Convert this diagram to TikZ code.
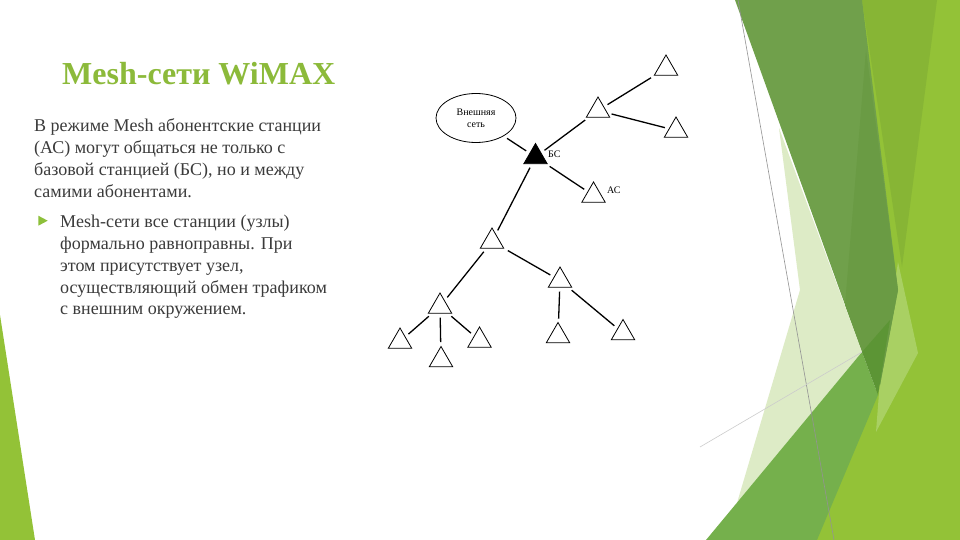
\documentclass[tikz,border=0pt]{standalone}
\usepackage{fontspec}
\setmainfont{Liberation Serif}
\usetikzlibrary{shapes.geometric}
\definecolor{titlegreen}{HTML}{8CBA3A}
\definecolor{bodygray}{HTML}{3B3B3B}
\definecolor{limemain}{HTML}{93C237}
\definecolor{limemid}{HTML}{87B535}
\definecolor{limepale}{HTML}{A9D063}
\definecolor{darkband}{HTML}{70A04B}
\definecolor{darkband2}{HTML}{6A9B44}
\definecolor{palegreen}{HTML}{DDEBC6}
\definecolor{medgreen}{HTML}{75B04C}
\definecolor{deepgreen}{HTML}{5C9535}
\definecolor{bulletgreen}{HTML}{8DC03A}
\begin{document}
\begin{tikzpicture}[x=1pt,y=-1pt,
  tri/.style={draw=black, regular polygon, regular polygon sides=3, minimum size=27pt, inner sep=0pt, line width=0.8pt},
  bstri/.style={tri, fill=black},
  link/.style={line width=1.3pt, shorten <=4pt, shorten >=4pt},
  lbl/.style={font=\fontsize{10}{11}\selectfont, inner sep=0pt},
  bodyline/.style={anchor=base west, inner sep=0pt, text=bodygray, font=\fontsize{18}{22}\selectfont}
]
\useasboundingbox (0,0) rectangle (960,540);
\fill[white] (0,0) rectangle (960,540);

% background facets
\fill[limemain] (855,0) -- (960,0) -- (960,540) -- (810,540) -- (880,380) -- cycle;
\fill[limemid] (862,0) -- (937,0) -- (902,267) -- cycle;
\fill[limepale] (898,262) -- (918,353) -- (876,432) -- (880,380) -- cycle;
\fill[darkband] (735,0) -- (862,0) -- (898,290) -- (880,385) -- (862,352) -- cycle;
\fill[darkband2] (866,50) -- (898,290) -- (880,385) -- (862,352) -- (845,305) -- cycle;
\fill[palegreen] (779,128) -- (862,352) -- (737,503) -- (800,290) -- cycle;
\fill[medgreen] (706,540) -- (862,352) -- (878,395) -- (817,540) -- cycle;
\fill[deepgreen] (862,352) -- (890,320) -- (878,395) -- cycle;
\draw[gray!85, line width=0.6pt] (738,0) -- (834,540);
\draw[black!20, line width=0.6pt] (700,447) -- (862,352);
\fill[limemain] (0,315) -- (35,540) -- (0,540) -- cycle;

% title
\node[anchor=base west, inner sep=0pt, text=titlegreen, font=\fontsize{32}{36}\selectfont\bfseries] (title) at (62,84.3) {Mesh-сети WiMAX};

% body text
\node[bodyline] (p1a) at (34,131.7) {В режиме Mesh абонентские станции};
\node[bodyline] (p1b) at (34,153.7) {(АС) могут общаться не только с};
\node[bodyline] (p1c) at (34,175.7) {базовой станцией (БС), но и между};
\node[bodyline] (p1d) at (34,197.7) {самими абонентами.};

\fill[bulletgreen] (38.3,215.7) -- (47.7,220.7) -- (38.3,225.7) -- cycle;
\node[bodyline] (p2a) at (60,227.7) {Mesh-сети все станции (узлы)};
\node[bodyline] (p2b) at (60,249.5) {формально равноправны. При};
\node[bodyline] (p2c) at (60,271.3) {этом присутствует узел,};
\node[bodyline] (p2d) at (60,293.1) {осуществляющий обмен трафиком};
\node[bodyline] (p2e) at (60,314.9) {с внешним окружением.};

% diagram
\node[draw=black, ellipse, line width=0.8pt, minimum width=80pt, minimum height=49pt, inner sep=1pt, align=center, font=\fontsize{10}{12.3}\selectfont] (ext) at (476,118) {Внешняя\\сеть};
\node[bstri] (bs) at (535.5,157) {};
\node[lbl, anchor=west] (bslbl) at (548,154) {БС};
\node[tri] (u1) at (598,110.5) {};
\node[tri] (t1) at (666,68.5) {};
\node[tri] (t2) at (676,130.5) {};
\node[tri] (ac) at (593.5,195.5) {};
\node[lbl, anchor=west] (aclbl) at (607,190) {АС};
\node[tri] (m) at (492,241.5) {};
\node[tri] (l) at (440,306.5) {};
\node[tri] (r) at (560,280.5) {};
\node[tri] (ll) at (400,341.5) {};
\node[tri] (lm) at (441,360) {};
\node[tri] (lr) at (479.5,340.5) {};
\node[tri] (rl) at (558,336) {};
\node[tri] (rr) at (623,333) {};

\draw[link] (ext) -- (bs);
\draw[link] (bs) -- (u1);
\draw[link] (u1) -- (t1);
\draw[link] (u1) -- (t2);
\draw[link] (bs) -- (ac);
\draw[link] (bs) -- (m);
\draw[link] (m) -- (l);
\draw[link] (m) -- (r);
\draw[link] (l) -- (ll);
\draw[link] (l) -- (lm);
\draw[link] (l) -- (lr);
\draw[link] (r) -- (rl);
\draw[link] (r) -- (rr);
\end{tikzpicture}
\end{document}
